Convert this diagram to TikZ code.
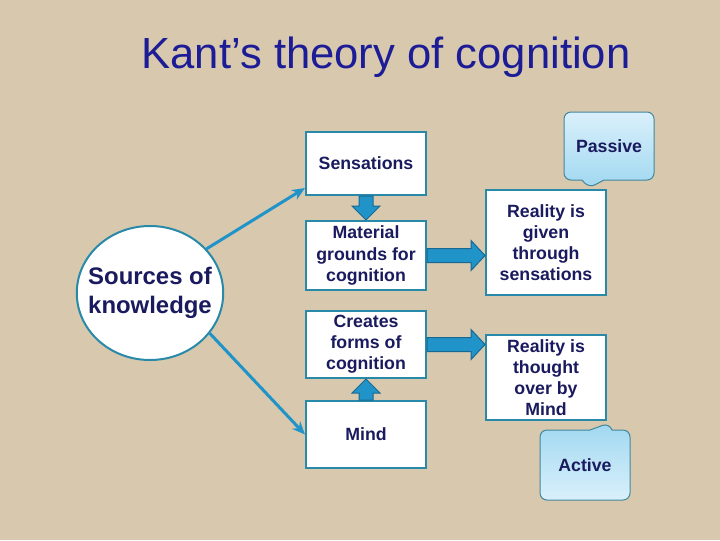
\documentclass[tikz,border=0pt]{standalone}
\usepackage{fontspec}
\setmainfont{Liberation Sans}
\usetikzlibrary{arrows.meta, positioning, calc, shapes.geometric, shapes.callouts}

\newdimen\pxu \pxu=0.025cm
\definecolor{paper}{RGB}{215,200,174}
\definecolor{navy}{RGB}{26,26,94}
\definecolor{titleblue}{RGB}{28,28,150}
\definecolor{edge}{RGB}{40,138,168}
\definecolor{flow}{RGB}{32,148,200}
\definecolor{flowdark}{RGB}{24,104,148}
\definecolor{notetop}{RGB}{218,240,251}
\definecolor{notebot}{RGB}{160,216,240}

\tikzset{
    box/.style={draw=edge, line width=2\pxu, fill=white, minimum width=120\pxu,
        inner sep=0pt, align=center, text=navy,
        font=\fontsize{12.6}{15}\selectfont\bfseries},
    source/.style={ellipse, draw=edge, line width=2\pxu, fill=white,
        minimum width=146\pxu, minimum height=134\pxu, inner sep=-10\pxu,
        align=center, text=navy, font=\fontsize{17}{20.6}\selectfont\bfseries},
    note/.style={rectangle callout, rounded corners=7\pxu, draw=edge!70!gray,
        line width=1\pxu, minimum width=90\pxu, callout pointer width=22\pxu,
        text=navy, font=\fontsize{12.6}{15}\selectfont\bfseries},
    link/.style={draw=flow, line width=3\pxu, -{Stealth[length=3.25mm, width=2.75mm]}},
    blockarrow/.style={fill=flow, draw=flowdark, line width=1\pxu},
}

\begin{document}
\begin{tikzpicture}[x=0.025cm, y=-0.025cm]
    \fill[paper] (0,0) rectangle (720,540);
    \useasboundingbox (0,0) rectangle (720,540);

    \node[anchor=base, text=titleblue, font=\fontsize{31}{36}\selectfont] (ttl) at (386,68) {Kant’s theory of cognition};

    % left column
    \node[box, minimum height=63\pxu] (sens) at (366,163.5) {Sensations};
    \node[box, minimum height=69\pxu] (mat) at (366,255.5) {Material\\grounds for\\cognition};
    \node[box, minimum height=67\pxu] (crt) at (366,344.5) {Creates\\forms of\\cognition};
    \node[box, minimum height=67\pxu] (mind) at (366,434.5) {Mind};

    % right column
    \node[box, minimum height=105\pxu] (gvn) at (546,242.5) {Reality is\\given\\through\\sensations};
    \node[box, minimum height=85\pxu] (tht) at (546,377.5) {Reality is\\thought\\over by\\Mind};

    \node[source] (src) at (150,293) {Sources of\\knowledge};

    \node[note, top color=notetop, bottom color=notebot, minimum height=68\pxu,
        callout absolute pointer={($(gvn.north east)+(-18,-1)$)}] (pas) at (609,146) {Passive};
    \node[note, top color=notebot, bottom color=notetop, minimum height=70\pxu,
        callout absolute pointer={($(tht.south east)+(2,2)$)}] (act) at (585,465) {Active};

    \draw[link] (src.38) -- ($(sens.south west)+(0,-8)$);
    \draw[link] (src.-34) -- (mind.west);

    % block arrows
    \draw[blockarrow] ($(sens.south)+(-7,0)$) -- ($(mat.north)+(-7,-14)$) -- ($(mat.north)+(-14,-14)$)
        -- (mat.north) -- ($(mat.north)+(14,-14)$) -- ($(mat.north)+(7,-14)$) -- ($(sens.south)+(7,0)$) -- cycle;
    \draw[blockarrow] ($(mind.north)+(-7,0)$) -- ($(crt.south)+(-7,14)$) -- ($(crt.south)+(-14,14)$)
        -- (crt.south) -- ($(crt.south)+(14,14)$) -- ($(crt.south)+(7,14)$) -- ($(mind.north)+(7,0)$) -- cycle;

    \coordinate (t1) at (mat.east -| gvn.west);
    \coordinate (t2) at (crt.east -| tht.west);
    \draw[blockarrow] ($(mat.east)+(0,-7)$) -- ($(t1)+(-14,-7)$) -- ($(t1)+(-14,-15)$)
        -- (t1) -- ($(t1)+(-14,15)$) -- ($(t1)+(-14,7)$) -- ($(mat.east)+(0,7)$) -- cycle;
    \draw[blockarrow] ($(crt.east)+(0,-7)$) -- ($(t2)+(-14,-7)$) -- ($(t2)+(-14,-15)$)
        -- (t2) -- ($(t2)+(-14,15)$) -- ($(t2)+(-14,7)$) -- ($(crt.east)+(0,7)$) -- cycle;
\end{tikzpicture}
\end{document}
